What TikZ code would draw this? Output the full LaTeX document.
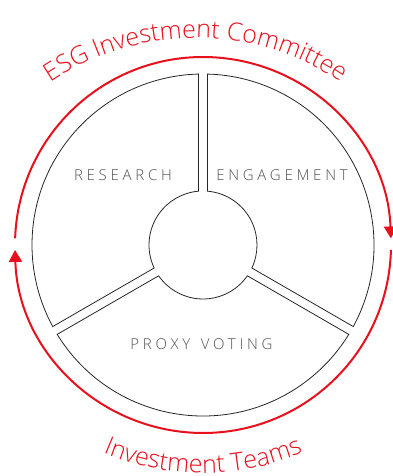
\documentclass[tikz,border=0pt]{standalone}
\usepackage{fontspec}
\setmainfont{Open Sans Light}
\newfontfamily\labelfont{Open Sans Light}[LetterSpace=25]
\newfontfamily\curvefont{Open Sans Light}
\usetikzlibrary{arrows.meta,decorations.text}
\definecolor{esgred}{RGB}{232,16,28}
\definecolor{labelgray}{RGB}{80,80,80}
\tikzset{
  sector/.style={draw=black!85, line width=0.8pt},
  cyclearc/.style={draw=esgred, line width=2pt, -{Triangle[length=12pt,width=13pt]}},
  seglabel/.style={text=labelgray, font=\labelfont\fontsize{15}{15}\selectfont, anchor=base},
  curvelabel/.style={decorate, decoration={text along path, text align=center,
     text color=esgred, text={|\curvefont\fontsize{25}{25}\selectfont|#1}}},
}
\begin{document}
\begin{tikzpicture}[x=1pt,y=1pt]
\useasboundingbox (-203,-231) rectangle (190,245);
% three segments, gaps at 90, 210 and 330 degrees
\foreach \a/\b in {90/210, 210/330, -30/90}
   \draw [sector] (\a+1.51:171) arc[start angle=\a+1.51, end angle=\b-1.51, radius=171]
      -- (\b-4.78:54) arc[start angle=\b-4.78, end angle=\a+4.78, radius=54] -- cycle;
\node [seglabel] (research) at (-80,64.3) {RESEARCH};
\node [seglabel] (engagement) at (79,64.3) {ENGAGEMENT};
\node [seglabel] (proxy) at (-1.5,-104.3) {PROXY \hspace{3pt}VOTING};

% red cycle
\draw [cyclearc] (178:188) arc[start angle=178, end angle=2, radius=188];
\draw [cyclearc] (-1.5:188) arc[start angle=-1.5, end angle=-178.5, radius=188];
\path [curvelabel={ESG Investment Committee}, shift={(-7,-53)}] (130:260) arc[start angle=130, end angle=50, radius=260];
\path [curvelabel={Investment Teams}, shift={(0,27)}] (238:255) arc[start angle=238, end angle=302, radius=255];
\end{tikzpicture}
\end{document}
